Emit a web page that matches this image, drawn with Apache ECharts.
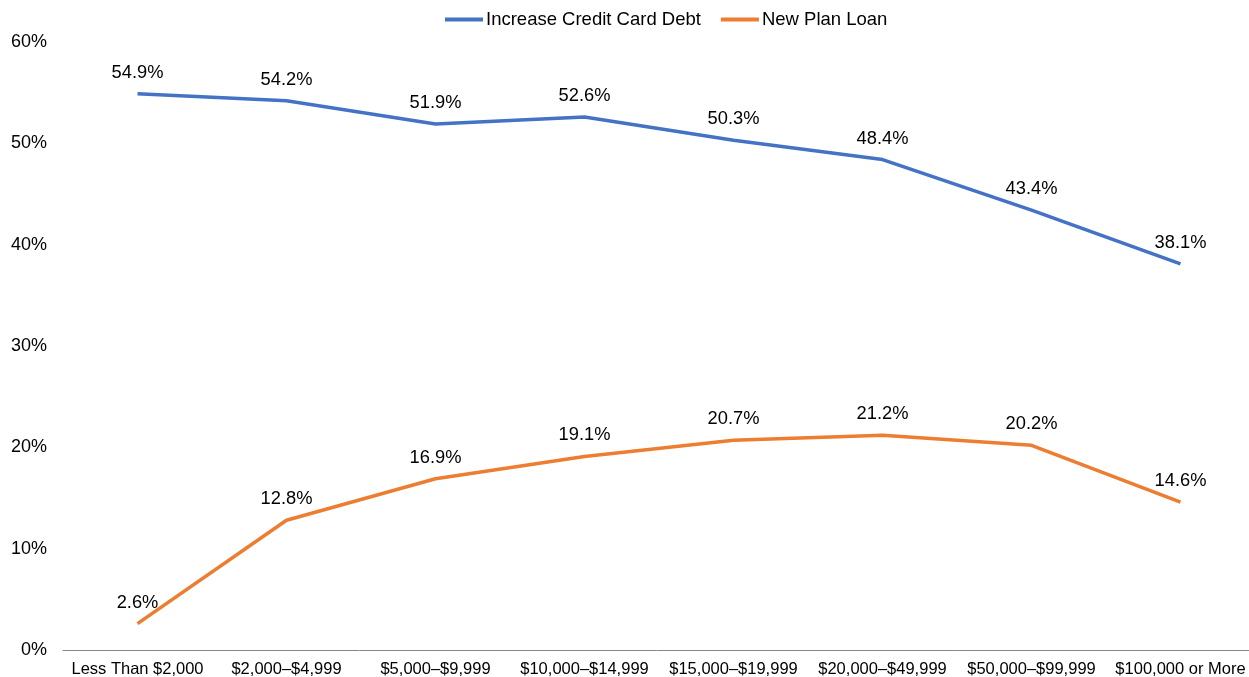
<!DOCTYPE html>
<html><head><meta charset="utf-8">
<script src="https://cdn.jsdelivr.net/npm/echarts@6/dist/echarts.min.js"></script>
<style>html,body{margin:0;padding:0;background:#fff}#c{width:1249px;height:677px}</style>
</head><body><div id="c"></div>
<script>
const categories = ["Less Than $2,000","$2,000\u2013$4,999","$5,000\u2013$9,999","$10,000\u2013$14,999","$15,000\u2013$19,999","$20,000\u2013$49,999","$50,000\u2013$99,999","$100,000 or More"];
const creditCard = [54.9,54.2,51.9,52.6,50.3,48.4,43.4,38.1];
const planLoan = [2.6,12.8,16.9,19.1,20.7,21.2,20.2,14.6];
const yTicks = [0,10,20,30,40,50,60];
const font = "Liberation Sans, Arial, sans-serif";
const chart = echarts.init(document.getElementById('c'));
function lbl(){ return {show:true,position:'top',distance:12,color:'#000',fontSize:18.3,fontFamily:font,formatter:p=>p.value.toFixed(1)+'%'}; }
chart.setOption({
  animation:false,
  legend:{top:5,left:440,itemWidth:38,itemHeight:4,itemGap:20,
    textStyle:{fontSize:18.5,fontFamily:font,color:'#000',padding:[0,0,0,-2]},
    data:[{name:'Increase Credit Card Debt',icon:'rect'},{name:'New Plan Loan',icon:'rect'}]},
  grid:{left:63,top:42,width:1192,bottom:27,outerBoundsMode:'none',containLabel:false},
  xAxis:{type:'category',data:categories,boundaryGap:true,
    axisLine:{lineStyle:{color:'#888',width:1}},axisTick:{show:false},
    axisLabel:{color:'#000',fontSize:16.5,fontFamily:font,margin:11,interval:0}},
  yAxis:{type:'value',min:yTicks[0],max:yTicks[yTicks.length-1],interval:10,
    splitLine:{show:false},axisLine:{show:false},axisTick:{show:false},
    axisLabel:{color:'#000',fontSize:18,fontFamily:font,margin:16,formatter:v=>v+'%'}},
  series:[
    {name:'Increase Credit Card Debt',type:'line',data:creditCard,symbol:'circle',symbolSize:0,showSymbol:true,
     lineStyle:{color:'#4472C4',width:3.5},itemStyle:{color:'#4472C4'},label:lbl()},
    {name:'New Plan Loan',type:'line',data:planLoan,symbol:'circle',symbolSize:0,showSymbol:true,
     lineStyle:{color:'#ED7D31',width:3.5},itemStyle:{color:'#ED7D31'},label:lbl()}
  ]
});
</script></body></html>
